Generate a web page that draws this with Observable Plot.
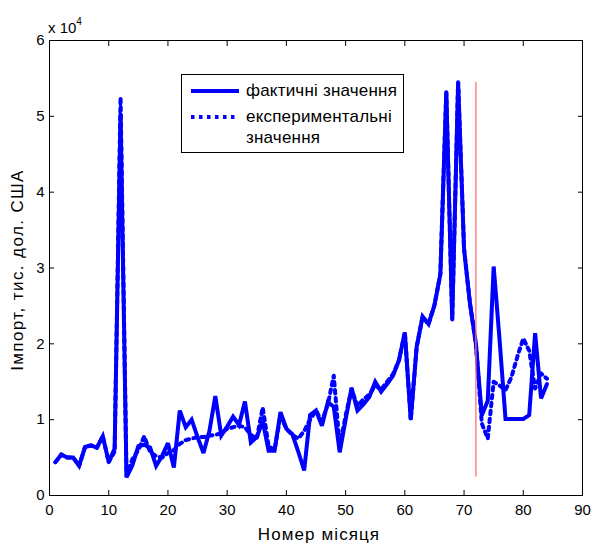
<!DOCTYPE html>
<html>
<head>
<meta charset="utf-8">
<script src="https://cdn.jsdelivr.net/npm/d3@7"></script>
<script src="https://cdn.jsdelivr.net/npm/@observablehq/plot@0.6"></script>
<style>
  body { margin: 0; background: #fff; font-family: "Liberation Sans", Arial, sans-serif; }
  #wrap { position: relative; width: 595px; height: 544px; overflow: hidden; }
  .t { position: absolute; white-space: nowrap; color: #000; }
</style>
</head>
<body>
<div id="wrap"></div>
<script>
// ---- data (values in thousand USD) ----
const actual = [
  4400, 5400, 5000, 5000, 3900, 6400, 6600, 6300, 7800, 4400,
  6200, 50400, 2400, 4000, 6500, 6700, 6300, 3900, 5200, 6900,
  3700, 11200, 9000, 10000, 7700, 5600, 8500, 13100, 7900, 9100,
  10400, 9300, 12400, 7000, 7700, 9800, 5900, 5900, 11000, 8800,
  8100, 5800, 3300, 10600, 11200, 9200, 12300, 11700, 5700, 10000,
  14200, 11200, 12000, 13000, 15000, 13700, 14700, 15800, 17800, 21500,
  10000, 19600, 23600, 22600, 25100, 29200, 53200, 23200, 54500, 32500,
  25300, 20000, 10600, 12500, 30200, 20500, 10100, 10100, 10100, 10100,
  10600, 21400, 12800, 14700
];
const experimental = [
  4400, 5400, 5000, 5000, 3900, 6400, 6600, 6300, 7800, 4400,
  5800, 52500, 2600, 4800, 6000, 7800, 5700, 5200, 5000, 5600,
  6000, 6800, 7300, 7500, 7700, 7700, 7900, 8000, 8200, 8800,
  9000, 9200, 9000, 8000, 7500, 11600, 6500, 6000, 10500, 8800,
  8000, 7500, 8500, 10000, 11200, 9800, 12000, 15800, 6500, 10500,
  14000, 11800, 12700, 13300, 14500, 14000, 15000, 16000, 17800, 21500,
  10000, 19600, 23600, 22600, 25100, 29200, 53200, 23200, 54500, 32500,
  25300, 20000, 9500, 7500, 15000, 14500, 13900, 15600, 18300, 20700,
  19100, 14100, 16100, 15400
];
const seriesNames = ["фактичні значення", "експериментальні значення"];
const xTicks = [0, 10, 20, 30, 40, 50, 60, 70, 80, 90];
const yTicks = [0, 10000, 20000, 30000, 40000, 50000, 60000];
const forecastStart = 72;
const xTitle = "Номер місяця";
const yTitle = "Імпорт, тис. дол. США";

const rowsActual = actual.map((v, i) => ({month: i + 1, value: v}));
const rowsExp = experimental.map((v, i) => ({month: i + 1, value: v}));

const blue = "#0000ff";
const font = "'Liberation Sans', Arial, sans-serif";
const lw = 4;
const dash = "3.5 4.5";

const chart = Plot.plot({
  width: 595,
  height: 544,
  marginLeft: 49,
  marginRight: 13,
  marginTop: 40,
  marginBottom: 49,
  style: {fontFamily: font, fontSize: "15px", color: "#000", background: "#fff"},
  x: {domain: [0, 90], ticks: xTicks},
  y: {domain: [0, 60000], ticks: yTicks},
  marks: [
    Plot.line(rowsActual, {x: "month", y: "value", stroke: blue, strokeWidth: lw, strokeLinejoin: "miter", strokeMiterlimit: 3}),
    Plot.line(rowsExp, {x: "month", y: "value", stroke: blue, strokeWidth: lw, strokeDasharray: dash}),
    Plot.ruleX([forecastStart], {y1: d3.min(actual), y2: d3.max(actual), stroke: "#ff7070", strokeWidth: 1.3}),
    Plot.frame({stroke: "#000", strokeWidth: 1}),
    // bottom axis: labels + inward ticks
    Plot.axisX(xTicks, {anchor: "bottom", tickSize: 0, tickPadding: 9, label: null, fontSize: 15}),
    Plot.axisX(xTicks, {anchor: "bottom", tickSize: -5, tickFormat: () => "", label: null}),
    Plot.axisX(xTicks, {anchor: "top", tickSize: -5, tickFormat: () => "", label: null}),
    // left axis: labels (scaled by 10^4) + inward ticks
    Plot.axisY(yTicks, {anchor: "left", tickSize: 0, tickPadding: 5, tickFormat: d => d / 10000, label: null, fontSize: 15}),
    Plot.axisY(yTicks, {anchor: "left", tickSize: -5, tickFormat: () => "", label: null}),
    Plot.axisY(yTicks, {anchor: "right", tickSize: -5, tickFormat: () => "", label: null})
  ]
});

const wrap = document.getElementById("wrap");
wrap.appendChild(chart);

function addText(html, css) {
  const d = document.createElement("div");
  d.className = "t";
  d.innerHTML = html;
  Object.assign(d.style, css);
  wrap.appendChild(d);
  return d;
}

// exponent note
addText("x 10<sup style='font-size:10px;position:relative;top:-2px'>4</sup>", {left: "48px", top: "14px", fontSize: "15px", lineHeight: "20px"});
// axis titles
addText(xTitle, {left: "319px", top: "526px", fontSize: "17px", lineHeight: "18px", letterSpacing: "1.1px", transform: "translateX(-50%)"});
addText(yTitle, {left: "18px", top: "270px", fontSize: "17px", lineHeight: "18px", letterSpacing: "1.4px", transform: "translate(-50%, -50%) rotate(-90deg)"});

// legend
const leg = document.createElement("div");
Object.assign(leg.style, {position: "absolute", left: "181px", top: "74px", width: "221px", height: "77px", border: "1px solid #000", background: "#fff"});
wrap.appendChild(leg);
const ns = "http://www.w3.org/2000/svg";
const ls = document.createElementNS(ns, "svg");
ls.setAttribute("width", "60"); ls.setAttribute("height", "60");
Object.assign(ls.style, {position: "absolute", left: "0px", top: "0px"});
[[16, null], [42, dash]].forEach(([y, da]) => {
  const l = document.createElementNS(ns, "line");
  l.setAttribute("x1", 9); l.setAttribute("x2", 57);
  l.setAttribute("y1", y); l.setAttribute("y2", y);
  l.setAttribute("stroke", blue); l.setAttribute("stroke-width", lw);
  if (da) l.setAttribute("stroke-dasharray", da);
  ls.appendChild(l);
});
leg.appendChild(ls);
function legText(txt, top) {
  const d = document.createElement("div");
  d.className = "t";
  d.textContent = txt;
  Object.assign(d.style, {left: "64px", top: top + "px", fontSize: "17px", lineHeight: "20px", letterSpacing: "0.2px"});
  leg.appendChild(d);
}
legText(seriesNames[0], 6);
legText("експериментальні", 32);
legText("значення", 53);
</script>
</body>
</html>
